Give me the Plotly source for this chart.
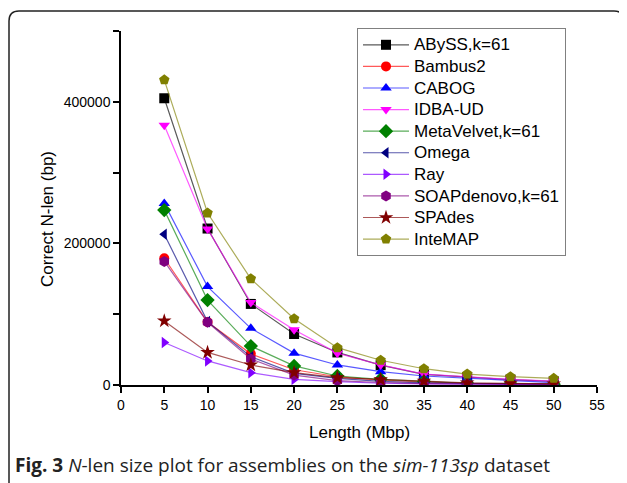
import plotly.graph_objects as go

length_mbp = [5, 10, 15, 20, 25, 30, 35, 40, 45, 50]

abyss = [405000, 221000, 114500, 72000, 46000, 28000, 15000, 11000, 7500, 5000]
bambus2 = [179000, 89000, 44000, 21500, 11700, 7000, 4500, 2500, 2000, 1500]
cabog = [256500, 139000, 80000, 45000, 28300, 18800, 12700, 9400, 6000, 3300]
idba_ud = [367000, 220500, 116500, 78000, 45000, 28300, 15500, 11700, 8000, 5600]
metavelvet = [247000, 120000, 55000, 27000, 12700, 8000, 5000, 2500, 2000, 1200]
omega = [213000, 89500, 40000, 16500, 9400, 5000, 3000, 2000, 1500, 1000]
ray = [60000, 34000, 17400, 8000, 4700, 2500, 1500, 1000, 800, 600]
soapdenovo = [174500, 88500, 36700, 14000, 6100, 3500, 2000, 1500, 1000, 800]
spades = [90500, 46000, 28300, 17400, 10300, 7500, 5600, 3000, 2500, 1500]
intemap = [431000, 243000, 150000, 93500, 52700, 35000, 23000, 15500, 11700, 9400]

series = [
    ("ABySS,k=61", abyss, "#000000", "square"),
    ("Bambus2", bambus2, "#ff0000", "circle"),
    ("CABOG", cabog, "#0000ff", "triangle-up"),
    ("IDBA-UD", idba_ud, "#ff00ff", "triangle-down"),
    ("MetaVelvet,k=61", metavelvet, "#008000", "diamond"),
    ("Omega", omega, "#000080", "triangle-left"),
    ("Ray", ray, "#8000ff", "triangle-right"),
    ("SOAPdenovo,k=61", soapdenovo, "#800080", "hexagon"),
    ("SPAdes", spades, "#800000", "star"),
    ("InteMAP", intemap, "#808000", "pentagon"),
]

x_ticks = [0, 5, 10, 15, 20, 25, 30, 35, 40, 45, 50, 55]
y_ticks = [0, 100000, 200000, 300000, 400000, 500000]
y_ticktext = ["0", "", "200000", "", "400000", ""]


def rgba(hexc, a):
    h = hexc.lstrip("#")
    r, g, b = int(h[0:2], 16), int(h[2:4], 16), int(h[4:6], 16)
    return f"rgba({r},{g},{b},{a})"


fig = go.Figure()
for name, vals, col, sym in series:
    size = 11 if sym in ("star", "pentagon", "hexagon", "diamond") else 10
    fig.add_trace(go.Scatter(
        x=length_mbp, y=vals,
        name=f'<span style="font-size:17px">{name}</span>',
        mode="lines+markers",
        line=dict(color=rgba(col, 0.65), width=1.2),
        marker=dict(color=col, symbol=sym, size=size, line=dict(width=0)),
    ))

font_main = "Arial, Liberation Sans, sans-serif"

# page has an 8px body margin; work in page px and convert
OFF = 8
FW, FH = 627 - OFF, 483 - OFF
L, R, T, B = 121, 597, 31, 385   # plot area in page px
W, H = R - L, B - T


def px_x(p):
    return (p - L) / W


def px_y(p):
    return (B - p) / H


fx0, fx1, fyt, fyb = px_x(9), px_x(624), px_y(11), px_y(495)
rx, ry = 10 / W, 10 / H
frame_path = (
    f"M {fx0},{fyb} L {fx0},{fyt - ry} Q {fx0},{fyt} {fx0 + rx},{fyt} "
    f"L {fx1 - rx},{fyt} Q {fx1},{fyt} {fx1},{fyt - ry} L {fx1},{fyb}"
)

fig.update_layout(
    width=FW, height=FH,
    margin=dict(l=L - OFF, r=627 - R, t=T - OFF, b=483 - B, autoexpand=False),
    paper_bgcolor="white", plot_bgcolor="white",
    font=dict(family=font_main, size=14, color="#000000"),
    showlegend=True,
    legend=dict(
        x=px_x(357), y=px_y(28), xanchor="left", yanchor="top",
        bgcolor="white", bordercolor="#808080", borderwidth=1,
        font=dict(family=font_main, size=14.3, color="#000000"),
        itemwidth=46, tracegroupgap=0, maxheight=400,
    ),
    xaxis=dict(
        range=[0, 55], tickvals=x_ticks, ticks="outside", ticklen=6, tickwidth=1.5,
        tickcolor="#000000", showline=True, linecolor="#000000", linewidth=1.5,
        showgrid=False, zeroline=False, tickfont=dict(size=14),
    ),
    yaxis=dict(
        range=[0, 500000], tickvals=y_ticks, ticktext=y_ticktext, ticks="outside",
        ticklen=6, tickwidth=1.5, tickcolor="#000000", showline=True,
        linecolor="#000000", linewidth=1.5, showgrid=False, zeroline=False,
        tickfont=dict(size=14),
    ),
    shapes=[dict(type="path", xref="paper", yref="paper", path=frame_path,
                 line=dict(color="#222222", width=1.5), layer="above")],
    annotations=[
        dict(text="Length (Mbp)", xref="paper", yref="paper", x=0.5, y=px_y(432),
             xanchor="center", yanchor="middle", showarrow=False,
             font=dict(family=font_main, size=17, color="#000000")),
        dict(text="Correct N-len (bp)", xref="paper", yref="paper", x=px_x(47),
             y=px_y(219), xanchor="center", yanchor="middle", textangle=-90,
             showarrow=False, font=dict(family=font_main, size=17, color="#000000")),
        dict(text="<b>Fig. 3</b> <i>N</i>-len size plot for assemblies on the <i>sim-113sp</i> dataset",
             xref="paper", yref="paper", x=px_x(13), y=px_y(465), xanchor="left",
             yanchor="middle", showarrow=False,
             font=dict(family="Open Sans, sans-serif", size=19, color="#222222")),
    ],
)

fig.write_html("out.html")
